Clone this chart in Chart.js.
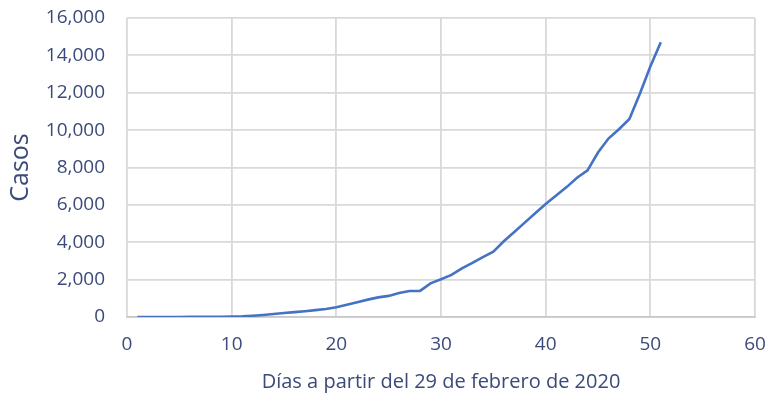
<!DOCTYPE html>
<html>
<head>
<meta charset="utf-8">
<script src="https://cdn.jsdelivr.net/npm/chart.js@4.4.1/dist/chart.umd.min.js"></script>
<style>
  html, body { margin: 0; padding: 0; background: #ffffff; }
  #wrap { width: 767px; height: 394px; }
</style>
</head>
<body>
<div id="wrap"><canvas id="c" width="767" height="394"></canvas></div>
<script>
// Cumulative confirmed cases per day
const dias = [1,2,3,4,5,6,7,8,9,10,11,12,13,14,15,16,17,18,19,20,
  21,22,23,24,25,26,27,28,29,30,31,32,33,34,35,36,37,38,39,40,
  41,42,43,44,45,46,47,48,49,50,51];
const casos = [0,0,0,2,4,5,6,7,10,25,40,70,110,160,210,260,310,370,430,520,
  650,790,930,1050,1130,1280,1390,1400,1800,2020,2250,2600,2900,3200,3500,4050,4550,5050,5550,6050,
  6500,6950,7450,7850,8800,9550,10050,10600,11950,13400,14700];

const xTicks = [0,10,20,30,40,50,60];
const yTicks = [0,2000,4000,6000,8000,10000,12000,14000,16000];

const textColor = '#3b4a7a';
const gridColor = '#d9d9d9';
const fontFamily = '"Open Sans", "DejaVu Sans", sans-serif';

const points = dias.map((d, i) => ({ x: d, y: casos[i] }));

new Chart(document.getElementById('c'), {
  type: 'line',
  data: {
    datasets: [{
      data: points,
      borderColor: '#4472c4',
      borderWidth: 2.6,
      pointRadius: 0,
      tension: 0,
      fill: false
    }]
  },
  options: {
    responsive: false,
    animation: false,
    layout: { padding: { top: 18, right: 12, bottom: 0, left: 0 } },
    plugins: { legend: { display: false }, tooltip: { enabled: false } },
    scales: {
      x: {
        type: 'linear',
        min: 0, max: 60,
        afterBuildTicks: (s) => { s.ticks = xTicks.map(v => ({ value: v })); },
        afterFit: (s) => { s.height = 77; s.paddingLeft = 0; s.paddingRight = 0; },
        grid: { color: gridColor, lineWidth: 1.8, drawTicks: false },
        border: { color: '#c8c8c8', width: 1.8 },
        ticks: {
          color: textColor,
          padding: 16,
          font: { family: fontFamily, size: 19 },
          maxRotation: 0
        },
        title: {
          display: true,
          text: 'Días a partir del 29 de febrero de 2020',
          color: textColor,
          font: { family: fontFamily, size: 20 },
          padding: { top: 0, bottom: 0 }
        }
      },
      y: {
        min: 0, max: 16000,
        afterBuildTicks: (s) => { s.ticks = yTicks.map(v => ({ value: v })); },
        afterFit: (s) => { s.width = 127; s.paddingTop = 0; s.paddingBottom = 0; },
        grid: { color: gridColor, lineWidth: 1.8, drawTicks: false },
        border: { display: false },
        ticks: {
          color: textColor,
          padding: 22,
          font: { family: fontFamily, size: 19 },
          callback: (v) => v.toLocaleString('en-US')
        },
        title: {
          display: true,
          text: 'Casos',
          color: textColor,
          font: { family: fontFamily, size: 25 },
          padding: { top: 6, bottom: 0 }
        }
      }
    }
  }
});
</script>
</body>
</html>
